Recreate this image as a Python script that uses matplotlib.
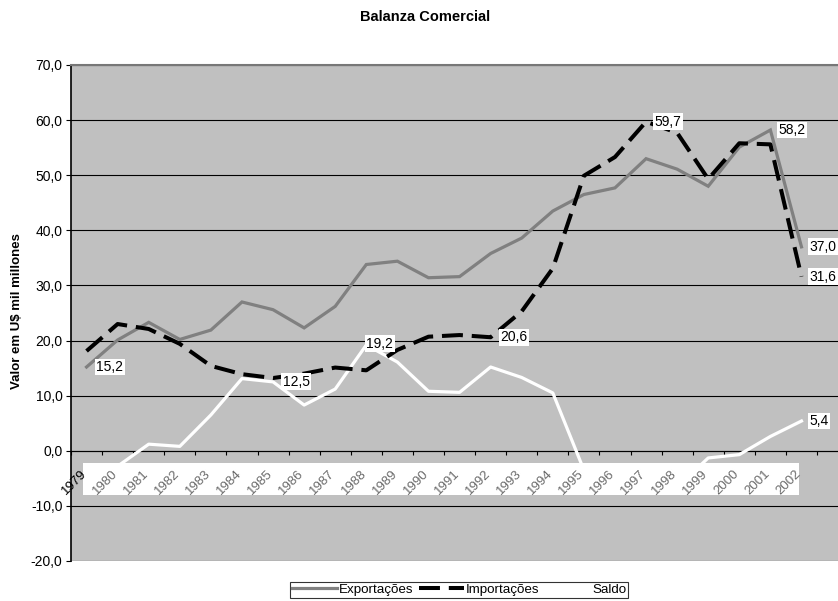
import matplotlib
matplotlib.use("Agg")
import matplotlib.pyplot as plt
import matplotlib.transforms as mtransforms
from matplotlib.patches import Rectangle
from matplotlib.lines import Line2D

plt.rcParams['font.family'] = ['Liberation Sans', 'DejaVu Sans']

anos = list(range(1979, 2003))
exportacoes = [15.2, 20.1, 23.3, 20.2, 21.9, 27.0, 25.6, 22.3, 26.2, 33.8, 34.4, 31.4,
               31.6, 35.8, 38.6, 43.5, 46.5, 47.7, 53.0, 51.1, 48.0, 55.1, 58.2, 37.0]
importacoes = [18.1, 23.0, 22.1, 19.4, 15.4, 13.9, 13.2, 14.0, 15.1, 14.6, 18.3, 20.7,
               21.0, 20.6, 25.3, 33.1, 49.9, 53.3, 59.7, 57.7, 49.3, 55.8, 55.6, 31.6]
saldo = [-2.8, -2.8, 1.2, 0.8, 6.5, 13.1, 12.5, 8.3, 11.2, 19.2, 16.1, 10.8,
         10.6, 15.2, 13.3, 10.5, -3.5, -5.6, -6.8, -6.6, -1.3, -0.7, 2.6, 5.4]
y_ticks = [-20, -10, 0, 10, 20, 30, 40, 50, 60, 70]

# which points get a value label: (series, index, x offset, y offset)
rotulos = [
    (exportacoes, 0, 7, 0),
    (saldo, 6, 7, 0),
    (saldo, 9, 0, 1),
    (importacoes, 13, 7, 0),
    (importacoes, 18, 6, 0),
    (exportacoes, 22, 6, 0),
    (exportacoes, 23, 6, 0),
    (importacoes, 23, 6, 0),
    (saldo, 23, 6, 0),
]

fig = plt.figure(figsize=(8.38, 6.01), dpi=100)
ax = fig.add_axes([71 / 838, 40 / 601, 767 / 838, 496 / 601])
ax.set_facecolor('#c0c0c0')

x = list(range(len(anos)))
ax.plot(x, exportacoes, color='#808080', lw=2.3, zorder=3, solid_joinstyle='miter')
ax.plot(x, importacoes, color='black', lw=2.9, linestyle=(0, (5.2, 2.2)), zorder=4)
ax.plot(x, saldo, color='white', lw=2.3, zorder=3)

ax.set_xlim(-0.5, 24.175)
ax.set_ylim(-20, 70)
ax.set_yticks(y_ticks)
ax.set_yticklabels([f"{v:.1f}".replace('.', ',') for v in y_ticks], fontsize=10)
ax.tick_params(axis='y', length=3.6, width=0.8, pad=2.5, direction='out')
ax.yaxis.grid(True, color='black', lw=0.8)

# category axis sits on zero, tick marks between categories
ax.spines['bottom'].set_position(('data', 0))
ax.spines['bottom'].set_bounds(-0.5, 24.175)
ax.spines['bottom'].set_linewidth(0.8)
ax.spines['left'].set_linewidth(1.2)
ax.spines['top'].set_color('#777777')
ax.spines['top'].set_linewidth(1.5)
ax.spines['right'].set_visible(False)
ax.set_xticks([])
ax.set_xticks([i - 0.5 for i in range(len(anos) + 1)], minor=True)
ax.tick_params(axis='x', which='minor', length=3, width=0.8, direction='out')

blend = mtransforms.blended_transform_factory(ax.transData, ax.transAxes)
ax.add_patch(Rectangle((-0.098, 0.133), 23.02, 0.0645, transform=blend,
                       facecolor='white', edgecolor='none', zorder=5))

for i, ano in enumerate(anos):
    ax.annotate(str(ano), xy=(i, 0), xytext=(-4.5, -12), textcoords='offset points',
                ha='right', va='top', rotation=45, rotation_mode='anchor',
                fontsize=9.5, color='black' if i == 0 else '#6a6a6a', zorder=6)

for serie, i, dx, dy in rotulos:
    ax.annotate(f"{serie[i]:.1f}".replace('.', ','), xy=(i, serie[i]),
                xytext=(dx, dy), textcoords='offset points', ha='left', va='center',
                fontsize=10, zorder=7,
                bbox=dict(boxstyle='square,pad=0.1', fc='white', ec='none'))

fig.text(425 / 838, 1 - 17 / 601, "Balanza Comercial", ha='center', va='center',
         fontsize=10.5, fontweight='bold')
fig.text(17.5 / 838, 1 - 311 / 601, "Valor em U$ mil millones", ha='center',
         va='center', rotation=90, fontsize=9.5, fontweight='bold')

handles = [
    Line2D([], [], color='#808080', lw=2.3),
    Line2D([], [], color='black', lw=2.9, linestyle=(0, (5.2, 2.2))),
    Line2D([], [], color='white', lw=2.3),
]
leg = fig.legend(handles, ["Exportações", "Importações", "Saldo"], loc='upper center',
                 bbox_to_anchor=(459 / 838, 1 - 582 / 601), ncol=3, fontsize=9.6,
                 frameon=True, fancybox=False, shadow=False, handlelength=3.4,
                 handletextpad=0.15, columnspacing=0.4, borderpad=0.12,
                 borderaxespad=0)
leg.get_frame().set_edgecolor('black')
leg.get_frame().set_linewidth(0.8)

fig.savefig("out.png", dpi=100)
